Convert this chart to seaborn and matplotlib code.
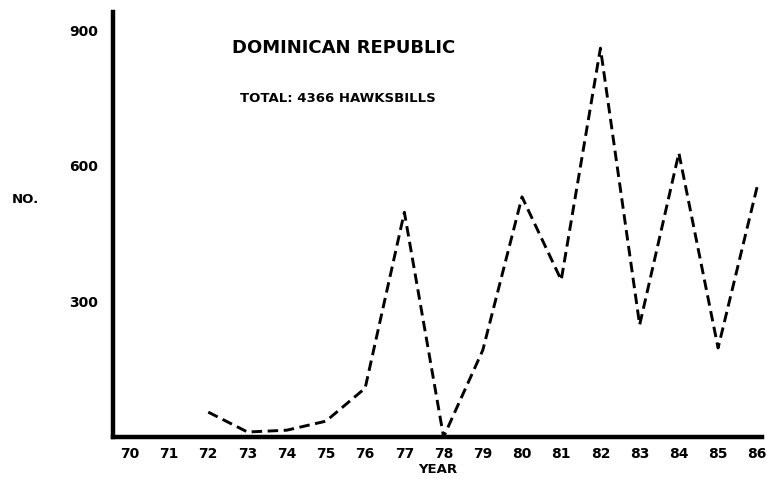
import matplotlib
matplotlib.use("Agg")
import matplotlib.pyplot as plt
import seaborn as sns
import pandas as pd

# values
years = [72, 73, 74, 75, 76, 77, 78, 79, 80, 81, 82, 83, 84, 85, 86]
hawksbills = [55, 11, 15, 35, 108, 497, 0, 192, 531, 347, 860, 248, 628, 197, 555]
year_ticks = list(range(70, 87))
count_ticks = [300, 600, 900]

df = pd.DataFrame({"year": years, "count": hawksbills})

sns.set_style("white")
plt.rcParams['font.family'] = ['DejaVu Sans']
plt.rcParams['text.color'] = 'black'
plt.rcParams['xtick.color'] = 'black'
plt.rcParams['ytick.color'] = 'black'
plt.rcParams['axes.labelcolor'] = 'black'

fig = plt.figure(figsize=(7.67, 4.79), dpi=100)
ax = fig.add_axes([0.1473, 0.0877, 0.8462, 0.8873])

sns.lineplot(data=df, x="year", y="count", ax=ax, color="black",
             linewidth=2.1, dashes=False, linestyle=(0, (3.6, 1.9)))

ax.set_xlim(69.57, 86.12)
ax.set_ylim(0, 940)
ax.set_xticks(year_ticks)
ax.set_xticklabels([str(y) for y in year_ticks], fontsize=10, fontweight="bold")
ax.set_yticks(count_ticks)
ax.set_yticklabels([str(v) for v in count_ticks], fontsize=10, fontweight="bold")
ax.tick_params(axis="x", length=0, pad=7)
ax.tick_params(axis="y", length=3, width=1, direction="in", pad=11)

for side in ["top", "right"]:
    ax.spines[side].set_visible(False)
for side in ["left", "bottom"]:
    ax.spines[side].set_linewidth(3.2)
    ax.spines[side].set_color("black")

ax.set_xlabel("YEAR", fontsize=9.5, fontweight="bold", labelpad=2)
ax.set_ylabel("NO.", fontsize=9.5, fontweight="bold", rotation=0,
              va="center", ha="center")
ax.yaxis.set_label_coords(-0.135, 0.558)

ax.text(0.1835, 0.915, "DOMINICAN REPUBLIC", transform=ax.transAxes,
        fontsize=13, fontweight="bold", ha="left", va="center")
ax.text(0.1955, 0.797, "TOTAL: 4366 HAWKSBILLS", transform=ax.transAxes,
        fontsize=9.5, fontweight="bold", ha="left", va="center")

fig.savefig("out.png", dpi=100)
